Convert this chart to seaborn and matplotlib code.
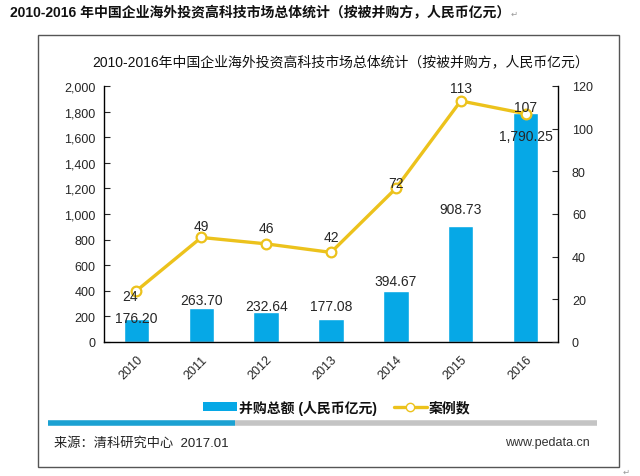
import matplotlib
matplotlib.use("Agg")
import matplotlib.pyplot as plt
from matplotlib.patches import Rectangle, Patch
from matplotlib.lines import Line2D
from matplotlib.ticker import StrMethodFormatter, FixedLocator
import numpy as np
import pandas as pd
import seaborn as sns

# Data
years = ["2010", "2011", "2012", "2013", "2014", "2015", "2016"]
deal_amount = [176.20, 263.70, 232.64, 177.08, 394.67, 908.73, 1790.25]   # 并购总额 (人民币亿元)
deal_count = [24, 49, 46, 42, 72, 113, 107]                               # 案例数
amount_ticks = [0, 200, 400, 600, 800, 1000, 1200, 1400, 1600, 1800, 2000]
count_ticks = [0, 20, 40, 60, 80, 100, 120]

heading = "2010-2016 年中国企业海外投资高科技市场总体统计（按被并购方，人民币亿元）"
title = "2010-2016年中国企业海外投资高科技市场总体统计（按被并购方，人民币亿元）"
bar_name = "并购总额 (人民币亿元)"
line_name = "案例数"
source = "来源：清科研究中心  2017.01"
site = "www.pedata.cn"

# label nudges in pixels (styling only)
bar_label_dy = [1, 8, 6, 13, 10, 17, -23]
line_label_dy = [-5, 11, 16, 15, 5, 13, 7]
line_label_dx = [-6, 0, 0, 0, 0, 0, 0]

BLUE = "#06A8E6"
GOLD = "#ECC21C"
TEXT = "#262626"

sns.set_style("white")
plt.rcParams["font.family"] = ["Liberation Sans", "Noto Sans CJK SC", "DejaVu Sans"]

df = pd.DataFrame({"year": years, "amount": deal_amount, "count": deal_count})

fig = plt.figure(figsize=(6.4, 4.77), dpi=100)
W, H = 640, 477


def fx(px):
    return px / W


def fy(py):
    return 1 - py / H


ax = fig.add_axes([fx(104), fy(343), fx(558) - fx(104), fy(87) - fy(343)])

sns.barplot(data=df, x="year", y="amount", color=BLUE, saturation=1,
            width=0.39, ax=ax, zorder=2)
ax.set_ylim(0, 2000)
ax.set_xlim(-0.5, len(years) - 0.5)
ax.set_yticks(amount_ticks)
ax.yaxis.set_major_formatter(StrMethodFormatter("{x:,.0f}"))
ax.set_xlabel("")
ax.set_ylabel("")

ax2 = ax.twinx()
sns.lineplot(x=np.arange(len(years)), y=deal_count, ax=ax2, color=GOLD,
             linewidth=2.4, marker="o", markersize=7, markerfacecolor="white",
             markeredgecolor=GOLD, markeredgewidth=1.6, zorder=3)
ax2.set_ylim(0, 120)
ax2.set_yticks(count_ticks)
ax2.set_xlim(-0.5, len(years) - 0.5)

for a in (ax, ax2):
    for s in a.spines.values():
        s.set_visible(False)
ax.spines["left"].set_visible(True)
ax.spines["bottom"].set_visible(True)
ax2.spines["right"].set_visible(True)
for s in (ax.spines["left"], ax.spines["bottom"], ax2.spines["right"]):
    s.set_color("black")
    s.set_linewidth(1.0)

ax.tick_params(axis="y", direction="in", length=4, width=0.8, labelsize=9,
               labelcolor=TEXT, pad=6)
ax2.tick_params(axis="y", direction="in", length=4, width=0.8, labelsize=9,
                labelcolor=TEXT, pad=10)
# tick marks between categories on the x axis
ax.xaxis.set_minor_locator(FixedLocator(np.arange(0.5, len(years) - 1, 1.0)))
ax.tick_params(axis="x", which="major", length=0, labelsize=9, labelcolor=TEXT, pad=8)
ax.tick_params(axis="x", which="minor", direction="in", length=4, width=0.8)
for lab in ax.get_xticklabels():
    lab.set_rotation(45)
    lab.set_ha("right")
    lab.set_va("top")
    lab.set_rotation_mode("anchor")

# data labels
for i, v in enumerate(deal_amount):
    ax.annotate(f"{v:,.2f}", (i, v), xytext=(0, bar_label_dy[i]),
                textcoords="offset pixels", ha="center", va="center",
                fontsize=10, color=TEXT, zorder=5)
for i, v in enumerate(deal_count):
    ax2.annotate(f"{v}", (i, v), xytext=(line_label_dx[i], line_label_dy[i]),
                 textcoords="offset pixels", ha="center", va="center",
                 fontsize=10, color=TEXT, zorder=5)

# heading above the frame
fig.text(fx(10), fy(13), heading, fontsize=10, fontweight="bold",
         color="#111111", ha="left", va="center")
fig.text(fx(511), fy(14), "↵", fontsize=6, color="#999999",
         family="DejaVu Sans", ha="left", va="center")

# frame around the chart
fig.add_artist(Rectangle((fx(38), fy(468)), fx(619) - fx(38), fy(36) - fy(468),
                         transform=fig.transFigure, fill=False,
                         edgecolor="#555555", linewidth=1.0))
fig.text(fx(623), fy(472), "↵", fontsize=6, color="#999999",
         family="DejaVu Sans", ha="left", va="center")

# chart title
fig.text(fx(341), fy(62), title, fontsize=10, color="#111111",
         ha="center", va="center")

# legend
handles = [Patch(facecolor=BLUE, edgecolor="none"),
           Line2D([0], [0], color=GOLD, linewidth=2.4, marker="o", markersize=6,
                  markerfacecolor="white", markeredgecolor=GOLD)]
leg = fig.legend(handles, [bar_name, line_name], loc="center",
                 bbox_to_anchor=(fx(337), fy(408)), ncol=2, frameon=False,
                 handlelength=2.4, handleheight=0.55, handletextpad=0.15,
                 columnspacing=1.2, prop={"size": 10, "weight": "bold"})
for t in leg.get_texts():
    t.set_color("#111111")

# coloured rule under the legend
fig.add_artist(Line2D([fx(48), fx(235)], [fy(424), fy(424)], color="#1BA1D2",
                      linewidth=4, transform=fig.transFigure, solid_capstyle="butt"))
fig.add_artist(Line2D([fx(235), fx(597)], [fy(424), fy(424)], color="#C4C4C4",
                      linewidth=4, transform=fig.transFigure, solid_capstyle="butt"))

# footer
fig.text(fx(54), fy(443), source, fontsize=9.5, color="#222222",
         ha="left", va="center")
fig.text(fx(590), fy(443), site, fontsize=9, color="#333333",
         ha="right", va="center")

fig.savefig("out.png", dpi=100, facecolor="white")
